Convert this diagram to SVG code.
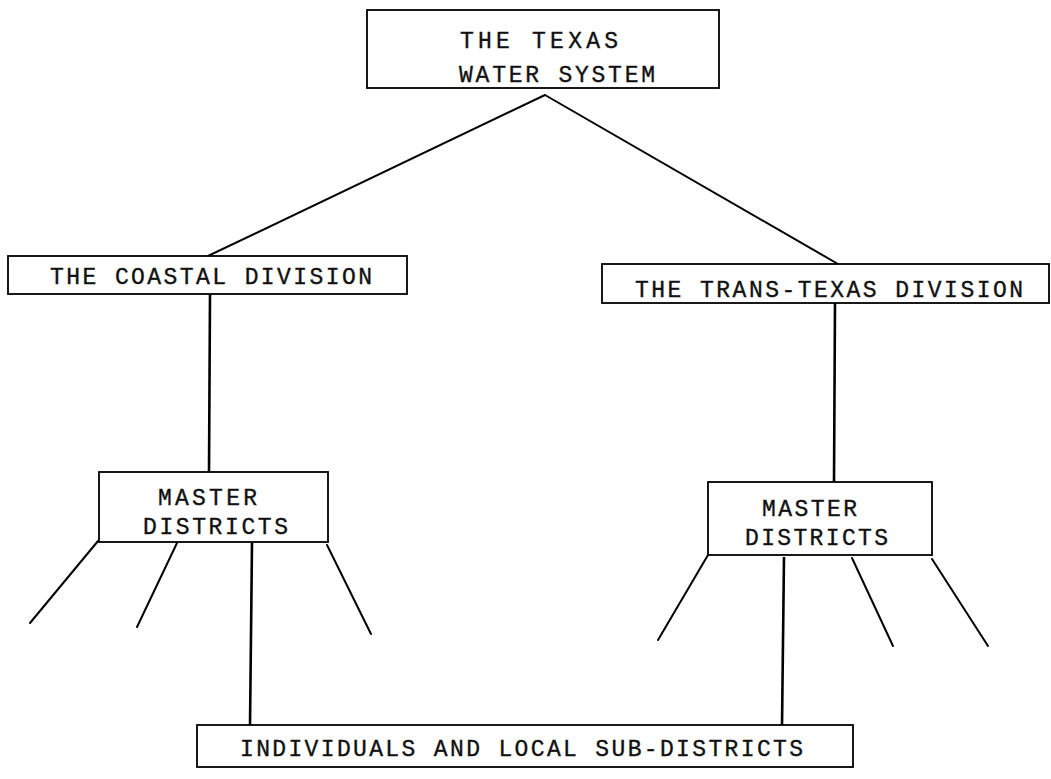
<svg xmlns="http://www.w3.org/2000/svg" width="1051" height="779" viewBox="0 0 1051 779">
<style>
.box{fill:#fff;stroke:#000;stroke-width:1.8}
.t{font-family:"Liberation Mono","DejaVu Sans Mono",monospace;font-size:23px;fill:#111;stroke:#111;stroke-width:0.35}
.c{stroke:#000;stroke-width:2;fill:none;stroke-linecap:round}
.v{stroke:#000;stroke-width:2.6;fill:none}
</style>
<rect width="1051" height="779" fill="#fff"/>
<g id="connectors">
<line class="c" x1="545" y1="95" x2="208" y2="256"/>
<line class="c" x1="545" y1="95" x2="838" y2="264"/>
<line class="v" x1="210" y1="294" x2="209" y2="472"/>
<line class="v" x1="835" y1="303" x2="834" y2="482"/>
<line class="c" x1="98" y1="541" x2="30" y2="623"/>
<line class="c" x1="177" y1="543" x2="137" y2="627"/>
<line class="v" x1="252" y1="543" x2="250" y2="726"/>
<line class="c" x1="327" y1="545" x2="371" y2="634"/>
<line class="c" x1="708" y1="555" x2="658" y2="640"/>
<line class="v" x1="784" y1="557" x2="782" y2="726"/>
<line class="c" x1="852" y1="558" x2="893" y2="646"/>
<line class="c" x1="932" y1="559" x2="988" y2="646"/>
</g>
<g id="texas-water-system">
<rect class="box" x="367" y="10" width="352" height="78"/>
<text class="t" x="460" y="48" textLength="158" lengthAdjust="spacing">THE TEXAS</text>
<text class="t" x="459" y="82" textLength="196" lengthAdjust="spacing">WATER SYSTEM</text>
</g>
<g id="coastal-division">
<rect class="box" x="8" y="256" width="399" height="38"/>
<text class="t" x="50" y="284" textLength="322" lengthAdjust="spacing">THE COASTAL DIVISION</text>
</g>
<g id="trans-texas-division">
<rect class="box" x="602" y="264" width="447" height="39"/>
<text class="t" x="635" y="297" textLength="388" lengthAdjust="spacing">THE TRANS-TEXAS DIVISION</text>
</g>
<g id="master-districts-left">
<rect class="box" x="99" y="472" width="229" height="70"/>
<text class="t" x="158" y="505" textLength="99" lengthAdjust="spacing">MASTER</text>
<text class="t" x="143" y="534" textLength="145" lengthAdjust="spacing">DISTRICTS</text>
</g>
<g id="master-districts-right">
<rect class="box" x="708" y="482" width="224" height="73"/>
<text class="t" x="762" y="516" textLength="95" lengthAdjust="spacing">MASTER</text>
<text class="t" x="745" y="545" textLength="143" lengthAdjust="spacing">DISTRICTS</text>
</g>
<g id="individuals">
<rect class="box" x="197" y="725" width="656" height="42"/>
<text class="t" x="240" y="756" textLength="563" lengthAdjust="spacing">INDIVIDUALS AND LOCAL SUB-DISTRICTS</text>
</g>
</svg>
